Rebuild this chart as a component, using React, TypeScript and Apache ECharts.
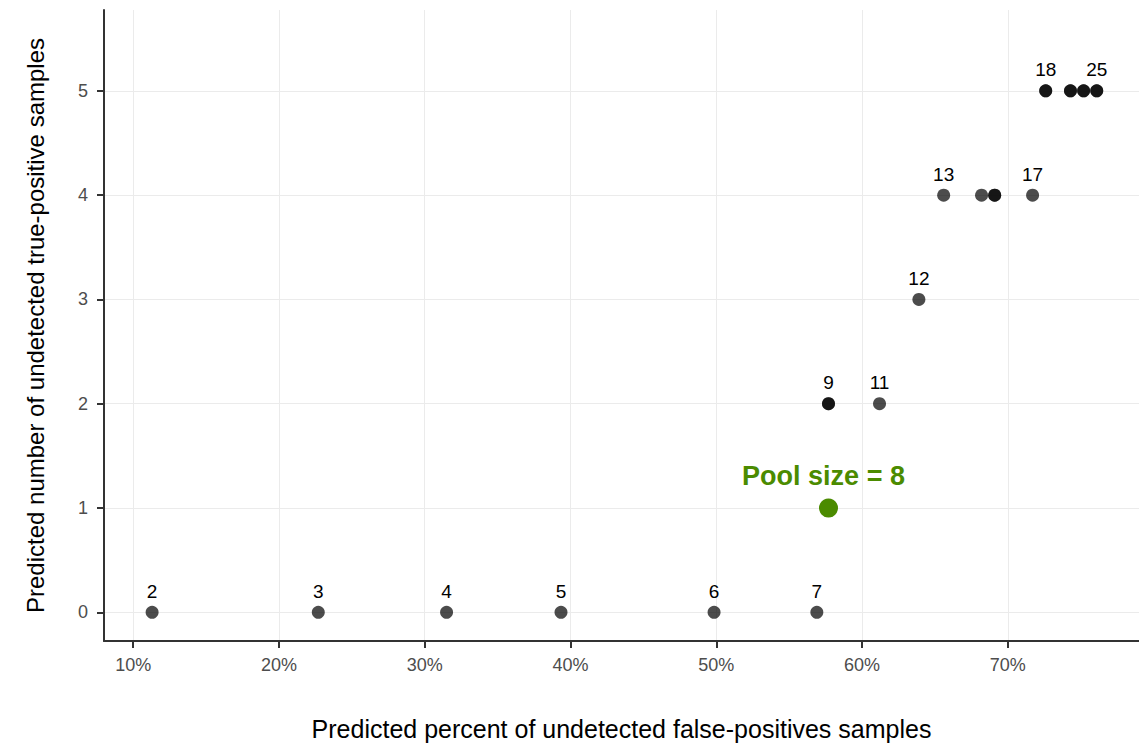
import React, { useEffect, useRef } from "react";
import * as echarts from "echarts";

const poolSizes = [2, 3, 4, 5, 6, 7, 8, 9, 10, 11, 12, 13, 14, 15, 16, 17, 18, 19, 20, 21, 22, 23, 24, 25];
const falsePosPct = [11.3, 22.7, 31.5, 39.35, 49.85, 56.9, 57.7, 57.7, 57.7, 61.2, 63.9, 65.6, 68.2, 69.1, 69.1, 71.7, 72.6, 72.6, 74.3, 74.3, 75.2, 75.2, 76.1, 76.1];
const truePosCount = [0, 0, 0, 0, 0, 0, 1, 2, 2, 2, 3, 4, 4, 4, 4, 4, 5, 5, 5, 5, 5, 5, 5, 5];
const labelledSizes = [2, 3, 4, 5, 6, 7, 9, 11, 12, 13, 17, 18, 25];
const highlightSize = 8;
const xTicks = [10, 20, 30, 40, 50, 60, 70];
const yTicks = [0, 1, 2, 3, 4, 5];
const xMin = 8.0;
const xMax = 79.0;
const yMin = -0.275;
const yMax = 5.775;

export default function App() {
  const ref = useRef<HTMLDivElement>(null);
  useEffect(() => {
    if (!ref.current) return;
    const chart = echarts.init(ref.current, null, { renderer: "svg" });
    const font = "'Liberation Sans', Arial, Helvetica, sans-serif";
    const pts = poolSizes.map((s, i) => ({
      value: [falsePosPct[i], truePosCount[i]],
      label: { show: labelledSizes.includes(s), formatter: String(s) },
    }));
    const hi = poolSizes.indexOf(highlightSize);
    chart.setOption({
      animation: false,
      textStyle: { fontFamily: font },
      grid: { left: 104, right: 0, top: 10, bottom: 103 },
      xAxis: {
        type: "value",
        min: xMin,
        max: xMax,
        name: "Predicted percent of undetected false-positives samples",
        nameLocation: "middle",
        nameGap: 75,
        nameTextStyle: { fontSize: 25, color: "#000", fontFamily: font },
        axisLine: { show: true, onZero: false, lineStyle: { color: "#333", width: 2 } },
        axisTick: { show: true, length: 7, customValues: xTicks, lineStyle: { color: "#333", width: 2 } },
        axisLabel: { customValues: xTicks, formatter: (v: number) => v + "%", color: "#4d4d4d", fontSize: 18, margin: 15, fontFamily: font },
        splitLine: { show: true, lineStyle: { color: "#ebebeb", width: 1 } },
      },
      yAxis: {
        type: "value",
        min: yMin,
        max: yMax,
        name: "Predicted number of undetected true-positive samples",
        nameLocation: "middle",
        nameGap: 57,
        nameTextStyle: { fontSize: 24, color: "#000", fontFamily: font },
        axisLine: { show: true, onZero: false, lineStyle: { color: "#333", width: 2 } },
        axisTick: { show: true, length: 7, customValues: yTicks, lineStyle: { color: "#333", width: 2 } },
        axisLabel: { customValues: yTicks, color: "#4d4d4d", fontSize: 18, margin: 16, fontFamily: font },
        splitLine: { show: true, lineStyle: { color: "#ebebeb", width: 1 } },
      },
      series: [
        {
          type: "scatter",
          symbolSize: 13,
          itemStyle: { color: "rgba(0,0,0,0.7)", opacity: 1 },
          label: { position: "top", distance: 5, color: "#000", fontSize: 19, fontFamily: font },
          emphasis: { disabled: true },
          data: pts,
        },
        {
          type: "scatter",
          symbolSize: 19,
          itemStyle: { color: "#4b8b00", opacity: 1 },
          label: {
            show: true,
            position: "top",
            distance: 9,
            offset: [-5, 0],
            formatter: "Pool size = " + highlightSize,
            color: "#4b8b00",
            fontSize: 27,
            fontWeight: "bold",
            fontFamily: font,
          },
          emphasis: { disabled: true },
          data: [[falsePosPct[hi], truePosCount[hi]]],
        },
      ],
    });
    return () => chart.dispose();
  }, []);
  return <div ref={ref} style={{ position: "fixed", left: 0, top: 0, width: 1139, height: 746, background: "#fff" }} />;
}
